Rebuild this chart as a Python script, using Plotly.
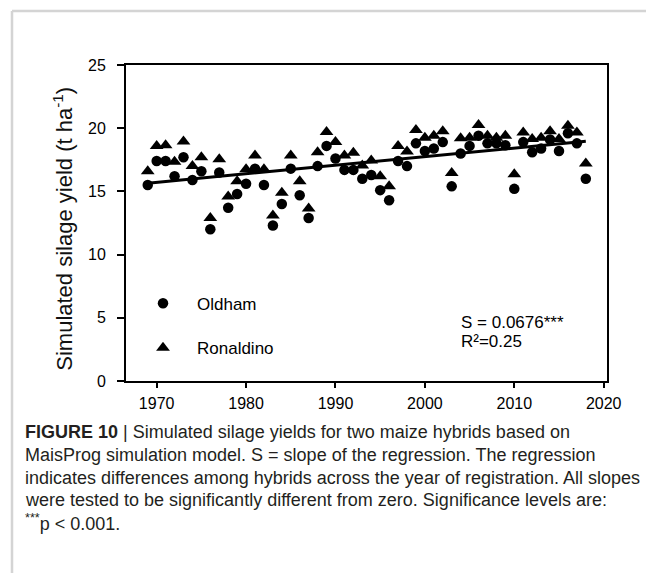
import numpy as np
import plotly.graph_objects as go

# ---------------- data ----------------
years = [1969, 1970, 1971, 1972, 1973, 1974, 1975, 1976, 1977, 1978,
         1979, 1980, 1981, 1982, 1983, 1984, 1985, 1986, 1987, 1988,
         1989, 1990, 1991, 1992, 1993, 1994, 1995, 1996, 1997, 1998,
         1999, 2000, 2001, 2002, 2003, 2004, 2005, 2006, 2007, 2008,
         2009, 2010, 2011, 2012, 2013, 2014, 2015, 2016, 2017, 2018]

oldham = [15.5, 17.4, 17.4, 16.2, 17.7, 15.9, 16.6, 12.0, 16.5, 13.7,
          14.8, 15.6, 16.8, 15.5, 12.3, 14.0, 16.8, 14.7, 12.9, 17.0,
          18.6, 17.6, 16.7, 16.7, 16.0, 16.3, 15.1, 14.3, 17.4, 17.0,
          18.8, 18.2, 18.4, 18.9, 15.4, 18.0, 18.6, 19.4, 18.8, 18.8,
          18.65, 15.2, 18.9, 18.1, 18.4, 19.1, 18.2, 19.6, 18.8, 16.0]

ronaldino = [16.6, 18.6, 18.65, 17.35, 18.95, 17.0, 17.7, 12.9, 17.55, 14.6,
             15.8, 16.75, 17.85, 16.75, 13.1, 14.9, 17.85, 15.8, 13.65, 18.1,
             19.7, 18.9, 17.85, 18.05, 17.05, 17.45, 16.2, 15.4, 18.6, 18.15,
             19.85, 19.25, 19.4, 19.75, 16.45, 19.2, 19.25, 20.25, 19.4, 19.25,
             19.4, 16.35, 19.65, 19.15, 19.25, 19.75, 19.15, 20.2, 19.65, 17.2]

reg_slope = 0.0676
reg_value_at_first_year = 15.65

y_ticks = [0, 5, 10, 15, 20, 25]
x_ticks = [1970, 1980, 1990, 2000, 2010, 2020]

y_title = "Simulated silage yield (t ha<sup>-1</sup>)"
stats_lines = ["S = 0.0676***", "R²=0.25"]

caption_lines = [
    "<b>FIGURE 10</b> | Simulated silage yields for two maize hybrids based on",
    "MaisProg simulation model. S = slope of the regression. The regression",
    "indicates differences among hybrids across the year of registration. All slopes",
    "were tested to be significantly different from zero. Significance levels are:",
    "<sup>***</sup>p &lt; 0.001.",
]

# ---------------- layout helpers ----------------
W, H = 646, 573
L, R, T, B = 126, 39, 65, 191.5
PW, PH = W - L - R, H - T - B


def px(x):
    return (x - L) / PW


def py(y):
    return (H - B - y) / PH


FONT = "Liberation Sans, Arial, sans-serif"

reg_x = np.array([years[0], years[-1]], dtype=float)
reg_y = reg_value_at_first_year + reg_slope * (reg_x - years[0])

fig = go.Figure()
fig.add_trace(go.Scatter(
    x=years, y=oldham, mode="markers", name="Oldham", legendgroup="a",
    marker=dict(symbol="circle", size=10.5, color="black"),
))
fig.add_trace(go.Scatter(
    x=years, y=ronaldino, mode="markers", name="Ronaldino", legendgroup="b",
    marker=dict(symbol="triangle-up", size=12, color="black"),
))
fig.add_trace(go.Scatter(
    x=reg_x, y=reg_y, mode="lines", showlegend=False,
    line=dict(color="black", width=3),
))

annotations = [dict(
    text=y_title, xref="paper", yref="paper", x=px(63), y=py(229),
    xanchor="center", yanchor="middle", textangle=-90, showarrow=False,
    font=dict(family=FONT, size=22, color="#111"))]

for t, yy in zip(stats_lines, [323.3, 341.7]):
    annotations.append(dict(
        text=t, xref="paper", yref="paper", x=px(459), y=py(yy),
        xanchor="left", yanchor="middle", align="left", showarrow=False,
        font=dict(family=FONT, size=17, color="black")))

cap_y = [433, 455.5, 478.5, 501, 523]
for t, yy in zip(caption_lines, cap_y):
    annotations.append(dict(
        text=t, xref="paper", yref="paper", x=px(23), y=py(yy),
        xanchor="left", yanchor="middle", align="left", showarrow=False,
        font=dict(family=FONT, size=18, color="#231f20")))

shapes = [
    dict(type="line", xref="paper", yref="paper", x0=px(12), x1=px(W + 5),
         y0=py(11), y1=py(11), line=dict(color="#d4d4d4", width=2.5)),
    dict(type="line", xref="paper", yref="paper", x0=px(12), x1=px(12),
         y0=py(11), y1=py(H + 5), line=dict(color="#d4d4d4", width=2.5)),
]

fig.update_layout(
    width=W, height=H,
    margin=dict(l=L, r=R, t=T, b=B, pad=0),
    paper_bgcolor="white", plot_bgcolor="white",
    font=dict(family=FONT, size=16, color="black"),
    showlegend=True,
    legend=dict(x=px(129), y=py(286), xanchor="left", yanchor="top",
                bgcolor="rgba(0,0,0,0)", font=dict(family=FONT, size=17),
                tracegroupgap=19.5, itemwidth=58),
    annotations=annotations,
    shapes=shapes,
    xaxis=dict(range=[1966.57, 2020.37], tickvals=x_ticks, ticks="outside",
               ticklen=5, tickwidth=1.5, tickcolor="black", showline=True,
               linewidth=2, linecolor="black", mirror=True, showgrid=False,
               zeroline=False, tickfont=dict(size=16), ticklabelstandoff=2),
    yaxis=dict(range=[0, 25], tickvals=y_ticks, ticks="outside", ticklen=7,
               tickwidth=1.5, tickcolor="black", showline=True, linewidth=2,
               linecolor="black", mirror=True, showgrid=False, zeroline=False,
               tickfont=dict(size=16), ticklabelstandoff=8),
)

fig.write_html("out.html", config={"displayModeBar": False},
               post_script="document.body.style.margin='0';")
